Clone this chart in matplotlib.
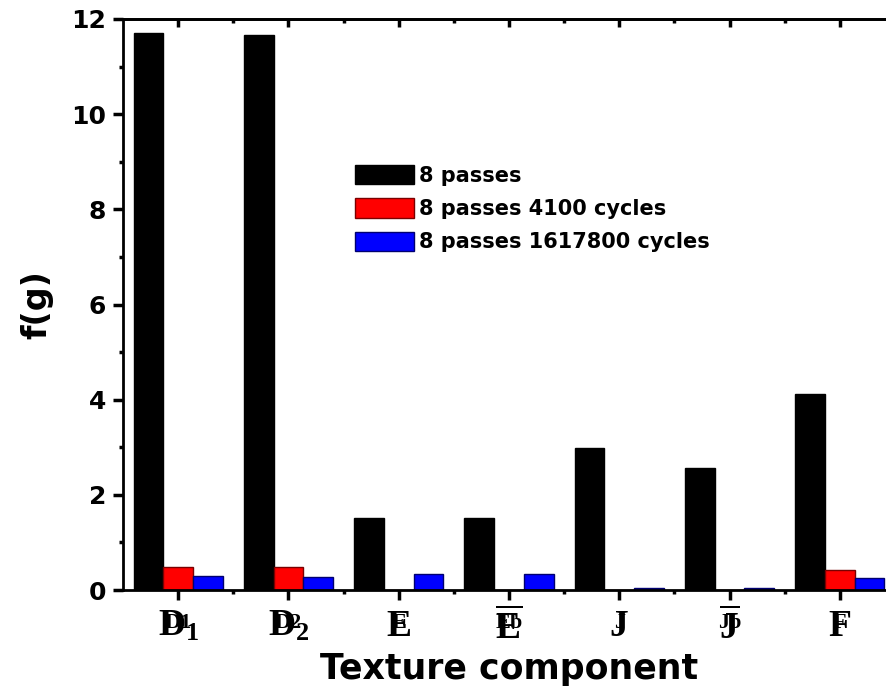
import numpy as np
import matplotlib.pyplot as plt

# dades llegides del grafic
components = [r'$\mathrm{D}_{1}$', r'$\mathrm{D}_{2}$', r'$\mathrm{E}$', r'$\overline{\mathrm{E}}$',
              r'$\mathrm{J}$', r'$\overline{\mathrm{J}}$', r'$\mathrm{F}$']
components_raw = ['D1', 'D2', 'E', 'Eb', 'J', 'Jb', 'F']
passes8 = [11.70, 11.66, 1.52, 1.52, 2.98, 2.57, 4.11]
cycles4100 = [0.48, 0.48, 0.0, 0.0, 0.0, 0.0, 0.41]
cycles1617800 = [0.29, 0.28, 0.34, 0.34, 0.04, 0.04, 0.25]
series_names = ['8 passes', '8 passes 4100 cycles', '8 passes 1617800 cycles']

plt.rcParams['mathtext.fontset'] = 'custom'
plt.rcParams['mathtext.rm'] = 'Liberation Serif:bold'
plt.rcParams['mathtext.bf'] = 'Liberation Serif:bold'
plt.rcParams['mathtext.it'] = 'Liberation Serif:bold'

fig = plt.figure(figsize=(8.86, 6.93), dpi=100)
ax = fig.add_axes([123 / 886, 103 / 693, 772 / 886, 571 / 693])

x = np.arange(len(components))
w = 0.269
ax.bar(x - w, passes8, w, color='black', edgecolor='black', lw=1, label=series_names[0])
ax.bar(x, cycles4100, w, color='#ff0000', edgecolor='#7a0000', lw=1, label=series_names[1])
ax.bar(x + w, cycles1617800, w, color='#0000ff', edgecolor='#000070', lw=1, label=series_names[2])

ax.set_xlim(-0.5, 6.5)
ax.set_ylim(0, 12)
ax.set_yticks(np.arange(0, 13, 2))
ax.set_yticks(np.arange(1, 12, 2), minor=True)
ax.set_xticks(x)
ax.set_xticks(x[:-1] + 0.5, minor=True)
ax.set_xticklabels(components, fontsize=27)
ax.tick_params(axis='y', labelsize=18)
for lbl in ax.get_yticklabels():
    lbl.set_fontweight('bold')
ax.tick_params(which='major', direction='out', length=7, width=2.5, pad=5)
ax.tick_params(which='minor', direction='out', length=3, width=2.5)
ax.tick_params(axis='x', which='major', pad=6)

# capa petita sobreposada de les etiquetes (com a l'original)
for xi, t in zip(x, components_raw):
    ax.annotate(t, xy=(xi, 0), xycoords=('data', 'axes fraction'), xytext=(0, -16.5),
                textcoords='offset points', ha='center', va='top',
                family='Liberation Serif', weight='bold', size=16)

for s in ax.spines.values():
    s.set_linewidth(2)

# marques interiors a dalt i a la dreta
top = ax.secondary_xaxis('top')
top.set_xticks(x)
top.set_xticks(x[:-1] + 0.5, minor=True)
top.set_xticklabels([])
top.tick_params(which='major', direction='in', length=6, width=2.5)
top.tick_params(which='minor', direction='in', length=3, width=2.5)
top.spines['top'].set_linewidth(2)
right = ax.secondary_yaxis('right')
right.set_yticks(np.arange(0, 13, 2))
right.set_yticklabels([])
right.tick_params(direction='in', length=6, width=2.5)
right.spines['right'].set_linewidth(2)

ax.set_xlabel('Texture component', fontsize=25, fontweight='bold', labelpad=4)
ax.set_ylabel('f(g)', fontsize=24, fontweight='bold', labelpad=13)

ax.legend(loc='upper left', bbox_to_anchor=(355 / 886, 1 - 165 / 693), bbox_transform=fig.transFigure,
          frameon=False, borderpad=0, borderaxespad=0, handlelength=2.84,
          handleheight=1.05, labelspacing=0.6, handletextpad=0.25, prop={'weight': 'bold', 'size': 15})

fig.savefig('out.png', dpi=100)
